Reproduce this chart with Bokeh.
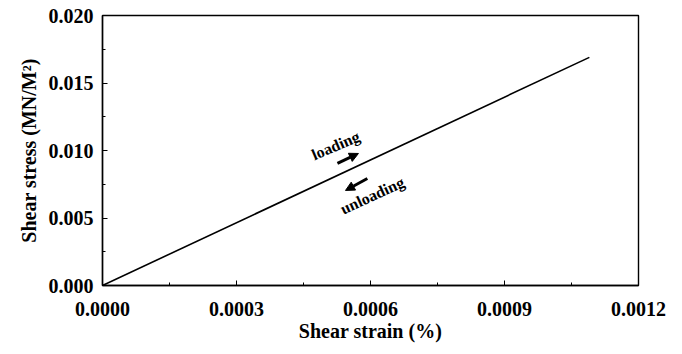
from bokeh.plotting import figure
from bokeh.models import Range1d, Arrow, NormalHead, Label, SingleIntervalTicker
from bokeh.embed import file_html
from bokeh.resources import INLINE

# data
strain = [0.0, 0.00109]
stress = [0.0, 0.0169]
x_ticks = [0.0, 0.0003, 0.0006, 0.0009, 0.0012]
x_tick_labels = ["0.0000", "0.0003", "0.0006", "0.0009", "0.0012"]
y_ticks = [0.0, 0.005, 0.010, 0.015, 0.020]
y_tick_labels = ["0.000", "0.005", "0.010", "0.015", "0.020"]

FONT = "Liberation Serif"

p = figure(width=682, height=354, output_backend="svg", toolbar_location=None,
           x_range=Range1d(0, 0.0012), y_range=Range1d(0, 0.020),
           min_border_left=102, min_border_right=44, min_border_top=15, min_border_bottom=69)
p.background_fill_color = "white"
p.border_fill_color = "white"
p.outline_line_color = "black"
p.outline_line_width = 1.4
p.xgrid.visible = False
p.ygrid.visible = False

p.line(strain, stress, line_color="black", line_width=1.6)

for ax in (p.xaxis[0], p.yaxis[0]):
    ax.major_tick_in = 5
    ax.major_tick_out = 0
    ax.minor_tick_in = 3
    ax.minor_tick_out = 0
    ax.axis_line_color = "black"
    ax.axis_line_width = 1.4
    ax.major_label_text_font = FONT
    ax.major_label_text_font_style = "bold"
    ax.major_label_text_font_size = "20px"
    ax.major_label_text_color = "black"
    ax.axis_label_text_font = FONT
    ax.axis_label_text_font_style = "bold"
    ax.axis_label_text_font_size = "20px"
    ax.axis_label_text_color = "black"

p.xaxis.ticker = SingleIntervalTicker(interval=0.0003, num_minor_ticks=2)
p.yaxis.ticker = SingleIntervalTicker(interval=0.005, num_minor_ticks=2)
p.xaxis.major_label_overrides = {t: l for t, l in zip(x_ticks, x_tick_labels)}
p.yaxis.major_label_overrides = {t: l for t, l in zip(y_ticks, y_tick_labels)}
p.xaxis.major_label_standoff = 16
p.yaxis.major_label_standoff = 9
p.xaxis.axis_label = "Shear strain (%)"
p.yaxis.axis_label = "Shear stress (MN/M\u00b2)"
p.xaxis.axis_label_standoff = 1
p.yaxis.axis_label_standoff = 6

# annotations
p.add_layout(Arrow(end=NormalHead(size=9, fill_color="black", line_color="black"),
                   x_start=0.000526, y_start=0.00904, x_end=0.000573, y_end=0.00978,
                   line_width=3, line_color="black"))
p.add_layout(Arrow(end=NormalHead(size=9, fill_color="black", line_color="black"),
                   x_start=0.000593, y_start=0.00793, x_end=0.000544, y_end=0.00704,
                   line_width=3, line_color="black"))
p.add_layout(Label(x=0.000522, y=0.01037, text="loading", angle=0.40,
                   text_align="center", text_baseline="middle", text_color="black",
                   text_font=FONT, text_font_style="bold", text_font_size="16px"))
p.add_layout(Label(x=0.000604, y=0.00667, text="unloading", angle=0.43,
                   text_align="center", text_baseline="middle", text_color="black",
                   text_font=FONT, text_font_style="bold", text_font_size="16px"))

open("out.html", "w").write(file_html(p, INLINE))
